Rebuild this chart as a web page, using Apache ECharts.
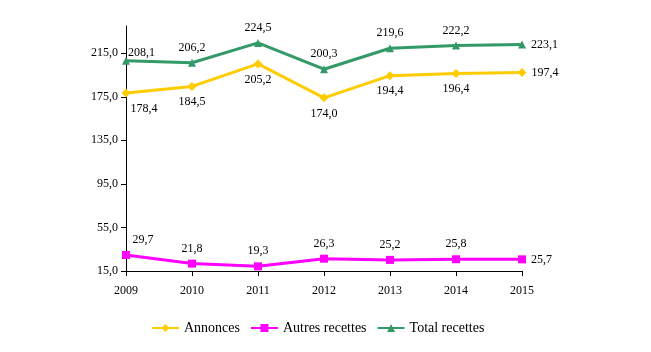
<!DOCTYPE html>
<html>
<head>
<meta charset="utf-8">
<script src="https://cdn.jsdelivr.net/npm/echarts@6/dist/echarts.min.js"></script>
<style>
  html, body { margin: 0; padding: 0; background: #fff; }
  #chart { width: 651px; height: 352px; }
</style>
</head>
<body>
<div id="chart"></div>
<script>
var years = ["2009", "2010", "2011", "2012", "2013", "2014", "2015"];
var annonces = [178.4, 184.5, 205.2, 174.0, 194.4, 196.4, 197.4];
var autres = [29.7, 21.8, 19.3, 26.3, 25.2, 25.8, 25.7];
var total = [208.1, 206.2, 224.5, 200.3, 219.6, 222.2, 223.1];

var FONT = "'Liberation Serif', 'Times New Roman', serif";

// label placement per point: [position, dx, dy]
var annPos = [["bottom", 18, 0], ["bottom", 0, 0], ["bottom", 0, 0], ["bottom", 0, 0], ["bottom", 0, 0], ["bottom", 0, 0], ["right", 0, 0]];
var autPos = [["top", 17, 0], ["top", 0, 0], ["top", 0, 0], ["top", 0, 0], ["top", 0, 0], ["top", 0, 0], ["right", 0, 0]];
var totPos = [["right", -7, -8], ["top", 0, 0], ["top", 0, 0], ["top", 0, 0], ["top", 0, 0], ["top", 0, 0], ["right", 0, 0]];

function fmt(v) { return v.toFixed(1).replace(".", ","); }

function points(values, pos) {
    return values.map(function (v, i) {
        return {value: v, label: {position: pos[i][0], offset: [pos[i][1], pos[i][2]]}};
    });
}

function line(name, values, pos, color, symbol, size) {
    return {
        name: name, type: "line", data: points(values, pos),
        symbol: symbol, symbolSize: size,
        lineStyle: {color: color, width: 3},
        itemStyle: {color: color},
        label: {show: true, color: "#000", fontFamily: FONT, fontSize: 12,
            formatter: function (p) { return fmt(p.value); }},
        animation: false
    };
}

var chart = echarts.init(document.getElementById("chart"));
chart.setOption({
    backgroundColor: "#fff",
    grid: {left: 126, right: 129, top: 26, bottom: 81, containLabel: false},
    legend: {
        bottom: 12, left: 146, itemWidth: 27, itemHeight: 10, itemGap: 10,
        textStyle: {fontFamily: FONT, fontSize: 14, color: "#000"},
        data: ["Annonces", "Autres recettes", "Total recettes"]
    },
    xAxis: {
        type: "category", data: years, boundaryGap: false,
        axisLine: {lineStyle: {color: "#000", width: 1}},
        axisTick: {show: true, length: 5, lineStyle: {color: "#000"}},
        axisLabel: {color: "#000", fontFamily: FONT, fontSize: 12, margin: 14}
    },
    yAxis: {
        type: "value", min: 15, max: 240, interval: 40,
        axisLine: {show: true, lineStyle: {color: "#000", width: 1}},
        axisTick: {show: true, length: 5, lineStyle: {color: "#000"}},
        splitLine: {show: false},
        axisLabel: {color: "#000", fontFamily: FONT, fontSize: 12, margin: 8, showMaxLabel: false,
            formatter: function (v) { return fmt(v); }}
    },
    series: [
        line("Annonces", annonces, annPos, "#FFCC00", "diamond", 9),
        line("Autres recettes", autres, autPos, "#FF00FF", "rect", 8),
        line("Total recettes", total, totPos, "#339966", "triangle", 8)
    ]
});
</script>
</body>
</html>
